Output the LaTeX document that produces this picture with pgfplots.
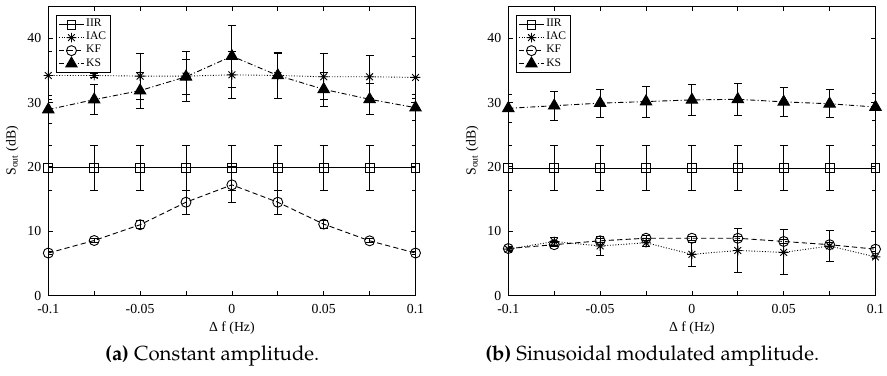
\documentclass[border=0pt]{standalone}
\usepackage[T1]{fontenc}
\usepackage{fontspec}
\setmainfont{Liberation Serif}
\usepackage{pgfplots}
\pgfplotsset{compat=1.18}
\usepackage{pgfplotstable}

\newcommand{\capfont}{\fontencoding{T1}\fontfamily{ppl}\selectfont}

\pgfdeclareplotmark{star8}{%
  \pgfpathmoveto{\pgfqpoint{-\pgfplotmarksize}{0pt}}\pgfpathlineto{\pgfqpoint{\pgfplotmarksize}{0pt}}%
  \pgfpathmoveto{\pgfqpoint{0pt}{-\pgfplotmarksize}}\pgfpathlineto{\pgfqpoint{0pt}{\pgfplotmarksize}}%
  \pgfpathmoveto{\pgfqpoint{-.7071\pgfplotmarksize}{-.7071\pgfplotmarksize}}\pgfpathlineto{\pgfqpoint{.7071\pgfplotmarksize}{.7071\pgfplotmarksize}}%
  \pgfpathmoveto{\pgfqpoint{-.7071\pgfplotmarksize}{.7071\pgfplotmarksize}}\pgfpathlineto{\pgfqpoint{.7071\pgfplotmarksize}{-.7071\pgfplotmarksize}}%
  \pgfusepathqstroke}

\pgfplotstableread{
x      iir   eiir  iac   eiac  kf    ekf   ks    eks
-0.1   19.85 3.45  34.2  3.8   6.6   0.2   28.9  2.2
-0.075 19.85 3.45  34.2  0.3   8.55  0.3   30.45 2.3
-0.05  19.85 3.45  34.1  3.6   11.0  0.6   31.85 2.85
-0.025 19.85 3.45  34.1  3.9   14.5  1.9   34.0  2.7
0      19.85 3.45  34.3  3.7   17.2  2.8   37.2  4.8
0.025  19.85 3.45  34.2  3.6   14.5  1.9   34.2  3.5
0.05   19.85 3.45  34.0  3.6   11.1  0.6   32.05 2.65
0.075  19.85 3.45  34.0  3.3   8.5   0.3   30.5  2.4
0.1    19.85 3.45  33.9  3.3   6.6   0.2   29.2  2.0
}\tabA

\pgfplotstableread{
x      iir   eiir  iac   eiac  kf    ekf   ks    eks
-0.1   19.8  3.45  7.2   0.3   7.3   0.3   29.1  2.2
-0.075 19.8  3.45  8.4   0.6   7.9   0.3   29.5  2.25
-0.05  19.8  3.45  7.7   1.5   8.5   0.3   29.9  2.2
-0.025 19.8  3.45  8.2   0.6   8.9   0.4   30.15 2.4
0      19.8  3.45  6.4   1.9   8.9   0.35  30.4  2.4
0.025  19.8  3.45  7.0   3.4   8.9   0.3   30.5  2.5
0.05   19.8  3.45  6.7   3.5   8.4   0.3   30.1  2.3
0.075  19.8  3.45  7.7   2.4   7.9   0.3   29.8  2.2
0.1    19.8  3.45  6.0   0.3   7.2   0.3   29.3  2.1
}\tabB

\pgfplotsset{
  myaxis/.style={
    scale only axis, width=183.6pt, height=144.75pt,
    xmin=-0.1, xmax=0.1, ymin=0, ymax=45,
    xtick={-0.1,-0.075,-0.05,-0.025,0,0.025,0.05,0.075,0.1},
    xticklabels={-0.1,,-0.05,,0,,0.05,,0.1},
    ytick={0,10,20,30,40},
    tick align=inside, major tick length=2.5pt,
    tick style={black, line width=0.4pt},
    axis line style={line width=0.5pt},
    tick label style={font=\fontsize{6.9}{7}\selectfont},
    /pgf/number format/assume math mode=true,
    x tick label style={yshift=-0.8pt},
    xlabel={Δ f (Hz)},
    every axis x label/.style={at={(axis description cs:0.5,0)}, anchor=center, yshift=-16.25pt, font=\fontsize{6.9}{7}\selectfont},
    ylabel={S\textsubscript{out} (dB)},
    every axis y label/.style={at={(axis description cs:-0.098,0.5)}, anchor=center, rotate=90, font=\fontsize{6.9}{7}\selectfont},
    legend style={at={(axis description cs:0.021,0.969)}, anchor=north west,
      font=\fontsize{5.8}{6}\selectfont, draw=black, line width=0.5pt,
      inner sep=1pt, row sep=-0.6pt,
      nodes={inner sep=0.9pt}},
    legend cell align=left,
    legend image code/.code={\draw[mark repeat=2,mark phase=2,#1] plot coordinates {(0cm,0cm) (0.22cm,0cm) (0.44cm,0cm)};},
    every axis plot/.append style={black, line width=0.45pt},
    error bars/y dir=both, error bars/y explicit,
    error bars/error bar style={line width=0.45pt, solid, black},
    error bars/error mark options={rotate=90, mark size=2pt, line width=0.45pt, solid, black},
  },
  iirsty/.style={solid, mark=square, mark size=2.2pt, mark options={solid}},
  iacsty/.style={dash pattern=on 0.45pt off 0.9pt, mark=star8, mark size=2.4pt, mark options={solid}},
  kfsty/.style={dash pattern=on 2.6pt off 1.6pt, mark=o, mark size=2.5pt, mark options={solid}},
  kssty/.style={dash pattern=on 2.6pt off 1.2pt on 0.5pt off 1.2pt, mark=triangle*, mark size=3.3pt, mark options={solid, fill=black}},
}

\begin{document}
\begin{tikzpicture}
\begin{axis}[myaxis, at={(0pt,0pt)}, anchor=south west]
\addplot[iirsty] table[x=x, y=iir, y error=eiir] {\tabA};
\addplot[iacsty] table[x=x, y=iac, y error=eiac] {\tabA};
\addplot[kfsty] table[x=x, y=kf, y error=ekf] {\tabA};
\addplot[kssty] table[x=x, y=ks, y error=eks] {\tabA};
\legend{IIR,IAC,KF,KS}
\end{axis}
\begin{axis}[myaxis, at={(230pt,0pt)}, anchor=south west]
\addplot[iirsty] table[x=x, y=iir, y error=eiir] {\tabB};
\addplot[iacsty] table[x=x, y=iac, y error=eiac] {\tabB};
\addplot[kfsty] table[x=x, y=kf, y error=ekf] {\tabB};
\addplot[kssty] table[x=x, y=ks, y error=eks] {\tabB};
\legend{IIR,IAC,KF,KS}
\end{axis}
\node[font=\capfont\fontsize{10.2}{12}\selectfont, anchor=center] at (82pt,-30pt) {\textbf{(a)} Constant amplitude.};
\node[font=\capfont\fontsize{10.2}{12}\selectfont, anchor=center] at (302pt,-30pt) {\textbf{(b)} Sinusoidal modulated amplitude.};
\pgfresetboundingbox
\path[use as bounding box] (-24.15pt,-39.75pt) rectangle (419.35pt,147.75pt);
\end{tikzpicture}
\end{document}
